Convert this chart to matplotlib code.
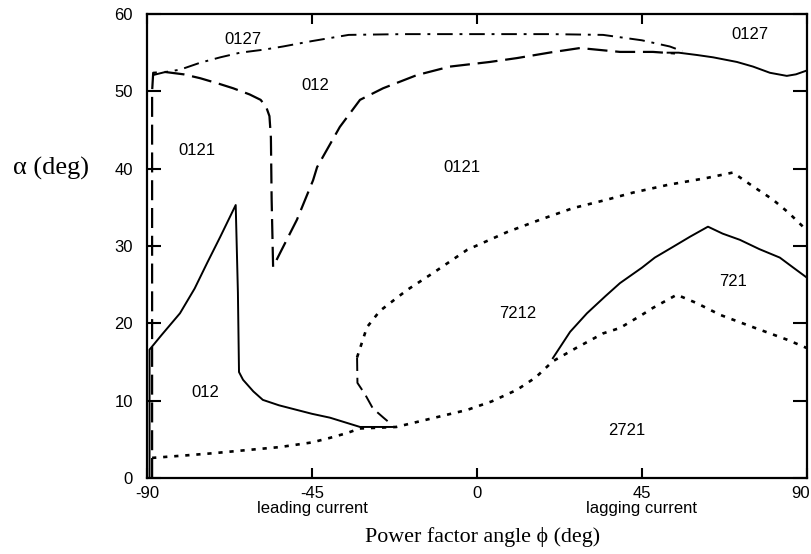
import matplotlib
matplotlib.use("Agg")
import matplotlib.pyplot as plt
import matplotlib.transforms as mtransforms

# ---- data ----
x_ticks = [-90, -45, 0, 45, 90]
x_tick_labels = ["-90", "-45\nleading current", "0", "45\nlagging current", "90"]
y_ticks = [0, 10, 20, 30, 40, 50, 60]
y_tick_labels = ["0", "10", "20", "30", "40", "50", "60"]

# dash-dot upper boundary (0127)
dd_top_x = [-88.4, -85, -81, -75.5, -70, -64.6, -58, -52.9, -45, -35, -20, 0, 20, 34.4, 45, 52.6, 56]
dd_top_y = [52.1, 52.5, 52.8, 53.7, 54.4, 55.0, 55.4, 55.8, 56.5, 57.3, 57.4, 57.4, 57.4, 57.3, 56.6, 55.8, 55.2]

# long dashed boundary (012 / 0121)
dash_x = [-88.6, -88.6, -88.3, -85, -80, -75.5, -70.5, -66.5, -62, -59, -57.5, -56.6, -56.2, -56.0, -55.6,
          -53.7, -49.1, -44.7, -43.6, -37.4, -31.9, -25.6, -16.4, -7.4, 3.5, 10.9, 20.3, 28.1, 39, 48, 54]
dash_y = [0.0, 50.0, 52.4, 52.5, 52.2, 51.7, 51.0, 50.4, 49.6, 48.9, 48.0, 46.8, 44.0, 36.0, 27.3,
          29.1, 33.4, 38.5, 40.2, 45.4, 48.9, 50.4, 52.1, 53.2, 53.8, 54.3, 55.05, 55.6, 55.1, 55.1, 54.9]

# solid upper right (merged boundary)
solid_top_x = [52, 55, 60, 64.4, 70.9, 75.3, 79.9, 84.5, 87, 90]
solid_top_y = [55.0, 55.0, 54.7, 54.4, 53.8, 53.2, 52.4, 52.0, 52.2, 52.7]

# solid lower-left boundary
solid_left_x = [-89.3, -89.3, -86, -81, -77, -73.6, -70, -65.8, -65.2, -64.9, -63.8, -61, -58.4, -54, -49.1,
                -45, -40.1, -36, -31.9, -23]
solid_left_y = [0.0, 16.6, 18.5, 21.3, 24.5, 27.8, 31.2, 35.3, 24.0, 13.7, 12.7, 11.2, 10.1, 9.4, 8.8,
                8.3, 7.8, 7.2, 6.6, 6.6]

# short dashed piece (0121 lower boundary)
dash_short_x = [-32.7, -32.6, -30.5, -28.4, -25.5, -23.0]
dash_short_y = [15.6, 12.3, 10.8, 9.0, 7.8, 6.8]

# dotted upper (0121 / 7212)
dot_up_x = [-32.7, -30, -26.5, -19.1, -12, -2.7, 8.2, 17.2, 26.2, 35.5, 42.5, 52, 62.7, 69.8, 75, 80.7, 85, 90]
dot_up_y = [15.6, 19.5, 21.6, 24.3, 26.5, 29.5, 31.8, 33.4, 34.9, 36.0, 36.9, 37.9, 38.8, 39.5, 37.8, 36.0, 34.3, 32.0]

# dotted lower (2721)
dot_low_x = [-88.6, -80, -72, -63, -53.7, -45, -40, -35.5, -32, -22, -15, -8, -2.7, 4, 10.9, 16, 20.7, 27,
             34.4, 39, 45, 48, 54.5, 60, 66.3, 75.3, 84.5, 90]
dot_low_y = [2.6, 2.9, 3.2, 3.6, 4.0, 4.6, 5.2, 5.8, 6.4, 6.6, 7.4, 8.2, 8.8, 9.9, 11.4, 13.0, 15.1, 16.8,
             18.7, 19.4, 21.1, 22.0, 23.7, 22.6, 21.1, 19.5, 17.9, 16.8]

# solid 7212 / 721 boundary
solid_mid_x = [20.7, 25.4, 30, 35, 39, 45, 48.5, 53.5, 58.1, 63, 67, 71.7, 77, 82.6, 86, 90]
solid_mid_y = [15.5, 18.9, 21.3, 23.5, 25.2, 27.2, 28.5, 29.9, 31.2, 32.5, 31.6, 30.8, 29.6, 28.5, 27.3, 25.9]

# region labels
region_labels = ["0127", "012", "0121", "0121", "0127", "7212", "721", "2721", "012"]
region_x = [-63.8, -44.2, -76.4, -4.1, 74.4, 11.2, 69.8, 40.9, -74.2]
region_y = [56.7, 50.8, 42.4, 40.2, 57.3, 21.3, 25.4, 6.2, 11.0]

# ---- figure ----
sans = ["Liberation Sans", "DejaVu Sans"]
serif = ["Liberation Serif", "DejaVu Serif"]

fig = plt.figure(figsize=(8.12, 5.54), dpi=100)
ax = fig.add_axes([0.181, 0.1372, 0.8128, 0.8375])

lw = 1.4
ax.plot(dd_top_x, dd_top_y, color="black", lw=lw, dashes=(8, 3.5, 1.5, 3.5))
ax.plot(dash_x, dash_y, color="black", lw=lw + 0.2, dashes=(9, 3.5))
ax.plot(solid_top_x, solid_top_y, color="black", lw=lw)
ax.plot(solid_left_x, solid_left_y, color="black", lw=lw)
ax.plot(dash_short_x, dash_short_y, color="black", lw=lw, dashes=(7, 3.5))
ax.plot(dot_up_x, dot_up_y, color="black", lw=lw + 0.5, dashes=(1.6, 2.6))
ax.plot(dot_low_x, dot_low_y, color="black", lw=lw + 0.5, dashes=(1.6, 2.6))
ax.plot(solid_mid_x, solid_mid_y, color="black", lw=lw)

for t, x, y in zip(region_labels, region_x, region_y):
    ax.text(x, y, t, ha="center", va="center", fontsize=12, family=sans)

ax.set_xlim(-90, 90)
ax.set_ylim(0, 60)
ax.set_xticks(x_ticks)
ax.set_xticklabels(x_tick_labels, family=sans, fontsize=12, linespacing=1.0)
ax.set_yticks(y_ticks)
ax.set_yticklabels(y_tick_labels, family=sans, fontsize=12)

ax.tick_params(axis="x", direction="in", top=True, length=7, width=1.5, pad=6)
ax.tick_params(axis="y", direction="in", right=True, length=10, width=1.5, pad=10)
for s in ax.spines.values():
    s.set_linewidth(1.6)

# nudge the last x tick label slightly left so it stays inside the figure
last = ax.get_xticklabels()[-1]
last.set_transform(last.get_transform() + mtransforms.ScaledTranslation(-6 / 100, 0, fig.dpi_scale_trans))

ax.set_ylabel("α (deg)", rotation=0, family=serif, fontsize=19, ha="center", va="center")
ax.yaxis.set_label_coords(-0.145, 0.668)
ax.set_xlabel("Power factor angle ϕ (deg)", family=serif, fontsize=15.8, ha="center", va="center")
ax.xaxis.set_label_coords(0.508, -0.127)

fig.savefig("out.png", dpi=100)
